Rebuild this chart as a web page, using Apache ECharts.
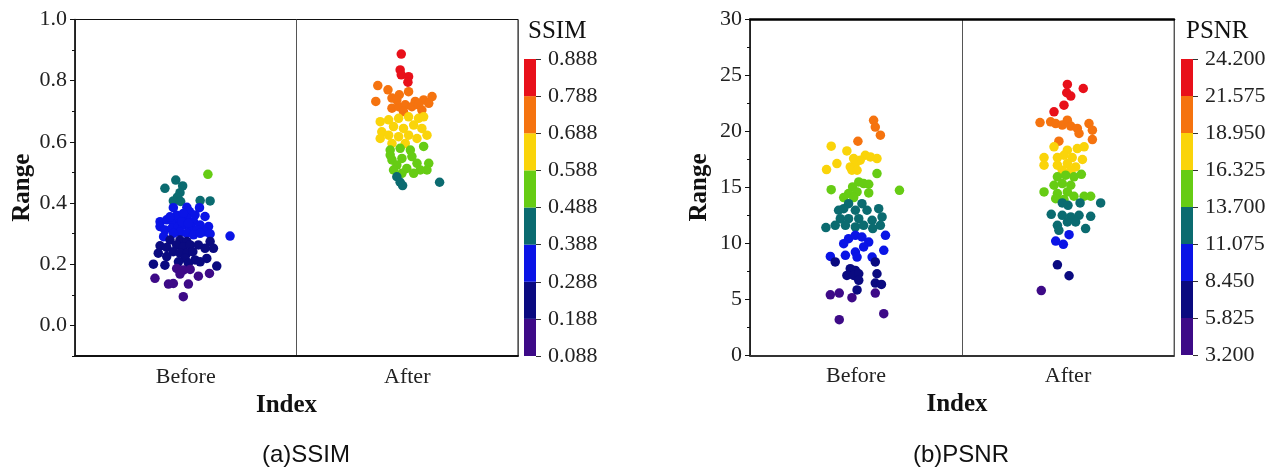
<!DOCTYPE html>
<html>
<head>
<meta charset="utf-8">
<script src="https://cdn.jsdelivr.net/npm/echarts@6/dist/echarts.min.js"></script>
<style>
  html, body { margin: 0; padding: 0; background: #fff; }
  #chart { width: 1278px; height: 470px; }
</style>
</head>
<body>
<div id="chart"></div>
<script>
// categories and colour classes
const categories = ['Before', 'After'];
const bandColors = ['#3d0a87', '#0a0a80', '#0a14e6', '#0b6b70', '#66cc14', '#fad40a', '#f5730f', '#e8101a'];

// colour bar boundaries (tick labels)
const ssimTicks = [0.088, 0.188, 0.288, 0.388, 0.488, 0.588, 0.688, 0.788, 0.888];
const psnrTicks = [3.2, 5.825, 8.45, 11.075, 13.7, 16.325, 18.95, 21.575, 24.2];

// major y tick values
const ssimMajor = [0, 0.2, 0.4, 0.6, 0.8, 1.0];
const psnrMajor = [0, 5, 10, 15, 20, 25, 30];

// points: [horizontal offset from category centre (category units), value]
const ssimBefore = [
  [0.10, 0.494], [-0.045, 0.475], [-0.094, 0.448], [-0.014, 0.456], [-0.026, 0.434], [-0.038, 0.419],
  [-0.056, 0.407], [-0.023, 0.405], [0.065, 0.408], [0.11, 0.407],
  [-0.056, 0.385], [0.005, 0.386], [0.017, 0.372], [0.062, 0.385], [0.087, 0.356], [-0.116, 0.339],
  [-0.086, 0.345], [-0.056, 0.334], [-0.026, 0.345], [0.005, 0.35], [0.035, 0.339], [0.065, 0.328],
  [0.103, 0.323], [-0.116, 0.323], [-0.094, 0.312], [-0.063, 0.317], [-0.033, 0.323], [-0.011, 0.328],
  [0.02, 0.323], [0.05, 0.312], [0.087, 0.306], [-0.026, 0.306], [-0.056, 0.301], [0.005, 0.301],
  [0.035, 0.296], [0.065, 0.301], [0.2, 0.292], [-0.1, 0.29], [0.11, 0.299], [-0.041, 0.36],
  [-0.011, 0.366], [-0.071, 0.355], [-0.018, 0.339], [0.012, 0.334], [0.042, 0.361],
  [-0.071, 0.279], [-0.026, 0.279], [0.005, 0.274], [-0.041, 0.263], [-0.011, 0.257], [0.02, 0.263],
  [-0.116, 0.26], [-0.086, 0.255], [0.11, 0.274], [0.125, 0.252], [0.087, 0.252], [0.057, 0.263],
  [-0.056, 0.241], [-0.026, 0.236], [0.005, 0.236], [0.032, 0.241], [-0.124, 0.236], [-0.086, 0.225],
  [-0.003, 0.219], [0.095, 0.219], [0.042, 0.214], [0.012, 0.203], [-0.094, 0.197], [-0.146, 0.2],
  [0.14, 0.194], [0.065, 0.208], [-0.033, 0.208],
  [-0.041, 0.186], [-0.011, 0.181], [0.02, 0.183], [-0.026, 0.168], [0.057, 0.161], [0.107, 0.17],
  [-0.139, 0.154], [-0.078, 0.135], [-0.056, 0.137], [0.012, 0.135], [-0.011, 0.094]
];
const ssimAfter = [
  [-0.027, 0.887], [-0.032, 0.835], [-0.027, 0.819], [0.006, 0.813], [0.003, 0.795],
  [-0.133, 0.784], [-0.087, 0.77], [-0.142, 0.732], [-0.069, 0.743], [-0.036, 0.754], [0.006, 0.764],
  [0.036, 0.732], [0.074, 0.737], [0.112, 0.748], [0.097, 0.726], [-0.069, 0.71], [-0.039, 0.715],
  [-0.009, 0.721], [0.021, 0.715], [0.051, 0.721], [-0.047, 0.737], [-0.017, 0.699], [0.066, 0.704],
  [-0.122, 0.666], [-0.084, 0.672], [-0.039, 0.677], [0.006, 0.682], [0.051, 0.677], [0.074, 0.682],
  [-0.115, 0.633], [-0.062, 0.65], [-0.017, 0.644], [0.029, 0.655], [0.066, 0.644], [0.089, 0.622],
  [-0.084, 0.622], [-0.039, 0.617], [0.006, 0.622], [0.044, 0.611], [-0.069, 0.595], [-0.009, 0.595],
  [-0.122, 0.611],
  [-0.077, 0.573], [-0.032, 0.579], [0.014, 0.573], [0.074, 0.585], [-0.069, 0.541], [-0.024, 0.546],
  [0.021, 0.552], [0.044, 0.53], [-0.047, 0.524], [-0.002, 0.513], [0.097, 0.53], [0.089, 0.508],
  [0.059, 0.508], [-0.062, 0.508], [-0.024, 0.497], [0.029, 0.497], [-0.077, 0.557],
  [-0.047, 0.486], [-0.032, 0.468], [-0.021, 0.457], [0.146, 0.468]
];
const psnrBefore = [
  [0.083, 21.0], [0.091, 20.4], [0.115, 19.67], [0.009, 19.13],
  [-0.117, 18.69], [-0.043, 18.27], [-0.139, 16.6], [-0.09, 17.14], [-0.027, 16.84], [-0.003, 17.14],
  [-0.019, 16.54], [0.005, 16.54], [0.044, 17.88], [0.068, 17.73], [0.099, 17.58], [0.02, 17.44],
  [-0.011, 17.58],
  [0.099, 16.24], [-0.117, 14.81], [0.205, 14.75], [0.013, 15.5], [0.036, 15.35], [0.06, 15.29],
  [-0.016, 15.05], [0.005, 14.6], [-0.035, 14.46], [-0.058, 14.1], [0.06, 14.52], [-0.011, 14.1],
  [-0.035, 13.56], [0.028, 13.56], [-0.082, 12.97], [-0.058, 13.11], [-0.003, 12.97], [0.052, 12.97],
  [0.107, 13.11], [0.123, 12.37], [-0.074, 12.22], [-0.035, 12.22], [0.013, 12.22], [0.076, 12.07],
  [-0.098, 11.62], [-0.05, 11.62], [-0.003, 11.48], [0.036, 11.62], [0.079, 11.33], [0.115, 11.62],
  [-0.142, 11.42],
  [0.139, 10.73], [-0.035, 10.43], [-0.003, 10.73], [0.028, 10.58], [-0.058, 9.98], [0.06, 10.13],
  [0.036, 9.69], [0.131, 9.39], [-0.121, 8.85], [-0.05, 8.94], [-0.003, 9.24], [0.005, 8.79],
  [0.076, 8.79],
  [-0.098, 8.35], [0.091, 8.35], [-0.027, 7.75], [-0.003, 7.6], [-0.043, 7.15], [-0.011, 7.15],
  [0.013, 7.3], [0.099, 7.3], [0.091, 6.47], [0.12, 6.35], [0.013, 6.71], [0.005, 5.85],
  [-0.121, 5.42], [-0.079, 5.57], [-0.019, 5.16], [0.091, 5.57], [-0.079, 3.2], [0.131, 3.73]
];
const psnrAfter = [
  [-0.003, 24.2], [0.072, 23.84], [-0.006, 23.46], [0.013, 23.16], [-0.019, 22.35], [-0.066, 21.76],
  [-0.132, 20.8], [-0.082, 20.86], [-0.058, 20.71], [-0.027, 20.57], [-0.003, 21.01], [0.013, 20.48],
  [0.044, 20.27], [0.052, 19.82], [0.099, 20.71], [0.115, 20.12], [0.115, 19.28], [-0.043, 19.14],
  [-0.066, 18.63], [-0.003, 18.33], [0.044, 18.48], [0.076, 18.63], [-0.113, 17.67], [-0.05, 17.67],
  [-0.019, 17.88], [0.02, 17.67], [0.068, 17.5], [-0.113, 16.99], [-0.05, 16.99], [-0.003, 17.14],
  [0.036, 16.84], [-0.027, 16.54], [0.013, 16.54],
  [-0.05, 15.95], [-0.011, 16.1], [0.028, 15.95], [0.063, 16.18], [-0.066, 15.2], [-0.027, 15.35],
  [0.013, 15.2], [-0.113, 14.6], [-0.05, 14.46], [-0.003, 14.6], [0.028, 14.22], [0.076, 14.22],
  [0.107, 14.22], [-0.058, 14.0], [-0.019, 13.92],
  [-0.027, 13.62], [0, 13.41], [0.057, 13.62], [0.154, 13.62], [-0.079, 12.61], [-0.027, 12.52],
  [0.013, 12.37], [0.052, 12.52], [0.107, 12.43], [-0.05, 11.62], [-0.003, 11.92], [0.036, 11.92],
  [0.083, 11.33], [-0.043, 11.18],
  [0.005, 10.79], [-0.058, 10.22], [-0.022, 9.93],
  [-0.05, 8.1], [0.005, 7.12],
  [-0.126, 5.8]
];

const SERIF = '"Liberation Serif", "Times New Roman", serif';

// colour classes for the visual map
function makePieces(ticks) {
    return ticks.slice(0, -1).map(function (lo, i) {
        const p = { gte: lo, color: bandColors[i] };
        if (i === ticks.length - 2) p.lte = ticks[i + 1]; else p.lt = ticks[i + 1];
        return p;
    });
}

// colour bar segments [lo, hi, colour index]
function makeBands(ticks) {
    return ticks.slice(0, -1).map(function (lo, i) { return [lo, ticks[i + 1], i]; });
}

function placed(points, catIndex) {
    return points.map(function (p) { return [catIndex + p[0], p[1]]; });
}

function renderBand(params, api) {
    const topLeft = api.coord([0, api.value(1)]);
    const botRight = api.coord([1, api.value(0)]);
    return {
        type: 'rect',
        shape: { x: topLeft[0], y: topLeft[1], width: botRight[0] - topLeft[0], height: botRight[1] - topLeft[1] },
        style: { fill: bandColors[api.value(2)] }
    };
}

function categoryAxis(grid, lineColor, nameShift) {
    return {
        type: 'category', gridIndex: grid, data: categories, boundaryGap: true, position: 'bottom',
        name: 'Index', nameLocation: 'middle', nameGap: 33,
        nameTextStyle: { fontFamily: SERIF, fontSize: 25, fontWeight: 'bold', color: '#111', padding: [0, nameShift, 0, 0] },
        axisLine: { onZero: false, lineStyle: { color: lineColor, width: 2 } },
        axisTick: { alignWithLabel: true, length: 5, lineStyle: { color: lineColor, width: 1.5 } },
        axisLabel: { fontFamily: SERIF, fontSize: 22, color: '#222', margin: 10 },
        splitLine: { show: true, lineStyle: { color: '#555', width: 1 } }
    };
}

function scatterXAxis(grid, topLine) {
    return {
        type: 'value', gridIndex: grid, min: -0.5, max: 1.5, position: 'top',
        show: topLine,
        axisLine: { show: true, onZero: false, lineStyle: { color: '#000', width: 2.5 } },
        axisTick: { show: false }, axisLabel: { show: false }, splitLine: { show: false }
    };
}

function hiddenXAxis(grid) {
    return { type: 'value', gridIndex: grid, min: 0, max: 1, show: false };
}

function mainYAxis(grid, min, max, interval, labelFn, nameGap) {
    return {
        type: 'value', gridIndex: grid, min: min, max: max, interval: interval, position: 'left',
        name: 'Range', nameLocation: 'middle', nameGap: nameGap, nameRotate: 90,
        nameTextStyle: { fontFamily: SERIF, fontSize: 25, fontWeight: 'bold', color: '#111' },
        axisLine: { show: true, onZero: false, lineStyle: { color: '#111', width: 1.5 } },
        axisTick: { show: true, length: 3, lineStyle: { color: '#111' } },
        axisLabel: { fontFamily: SERIF, fontSize: 22, color: '#222', margin: 8, formatter: labelFn },
        splitLine: { show: false }
    };
}

function majorTickAxis(grid, min, max, interval, major) {
    return {
        type: 'value', gridIndex: grid, min: min, max: max, interval: interval, position: 'left',
        axisLine: { show: false, onZero: false },
        axisTick: { show: true, length: 5, customValues: major, lineStyle: { color: '#111' } },
        axisLabel: { show: false },
        splitLine: { show: false }
    };
}

function colorBarYAxis(grid, ticks) {
    return {
        type: 'value', gridIndex: grid, position: 'right',
        min: ticks[0], max: ticks[ticks.length - 1], interval: ticks[1] - ticks[0],
        axisLine: { show: false, onZero: false },
        axisTick: { show: true, length: 5, lineStyle: { color: '#333' } },
        axisLabel: { fontFamily: SERIF, fontSize: 22, color: '#222', margin: 12,
            formatter: function (v) { return v.toFixed(3); } },
        splitLine: { show: false }
    };
}

const chart = echarts.init(document.getElementById('chart'));

const dot = { symbolSize: 9.5, itemStyle: { opacity: 1 } };

const option = {
    backgroundColor: '#fff',
    animation: false,
    grid: [
        { left: 75, top: 19.5, width: 443, height: 336.5, show: true, borderColor: '#111', borderWidth: 1 },
        { left: 524, top: 59, width: 12, height: 297 },
        { left: 750, top: 19.5, width: 424, height: 336, show: true, borderColor: '#666', borderWidth: 1 },
        { left: 1181, top: 59, width: 12, height: 296 }
    ],
    xAxis: [
        categoryAxis(0, '#111', 20),
        scatterXAxis(0, false),
        hiddenXAxis(1),
        categoryAxis(2, '#333', 10),
        scatterXAxis(2, true),
        hiddenXAxis(3)
    ],
    yAxis: [
        mainYAxis(0, -0.1, 1.0, 0.1, function (v) {
            return Math.round(v * 10) % 2 === 0 ? v.toFixed(1) : '';
        }, 40),
        majorTickAxis(0, -0.1, 1.0, 0.1, ssimMajor),
        colorBarYAxis(1, ssimTicks),
        mainYAxis(2, 0, 30, 2.5, function (v) {
            return v % 5 === 0 ? String(v) : '';
        }, 38),
        majorTickAxis(2, 0, 30, 2.5, psnrMajor),
        colorBarYAxis(3, psnrTicks)
    ],
    visualMap: [
        { type: 'piecewise', show: false, seriesIndex: [0, 1], dimension: 1, pieces: makePieces(ssimTicks) },
        { type: 'piecewise', show: false, seriesIndex: [3, 4], dimension: 1, pieces: makePieces(psnrTicks) }
    ],
    series: [
        Object.assign({ name: 'SSIM Before', type: 'scatter', xAxisIndex: 1, yAxisIndex: 0, data: placed(ssimBefore, 0) }, dot),
        Object.assign({ name: 'SSIM After', type: 'scatter', xAxisIndex: 1, yAxisIndex: 0, data: placed(ssimAfter, 1) }, dot),
        { name: 'SSIM bar', type: 'custom', xAxisIndex: 2, yAxisIndex: 2, renderItem: renderBand, data: makeBands(ssimTicks) },
        Object.assign({ name: 'PSNR Before', type: 'scatter', xAxisIndex: 4, yAxisIndex: 3, data: placed(psnrBefore, 0) }, dot),
        Object.assign({ name: 'PSNR After', type: 'scatter', xAxisIndex: 4, yAxisIndex: 3, data: placed(psnrAfter, 1) }, dot),
        { name: 'PSNR bar', type: 'custom', xAxisIndex: 5, yAxisIndex: 5, renderItem: renderBand, data: makeBands(psnrTicks) }
    ],
    graphic: [
        { type: 'text', x: 528, y: 31, style: { text: 'SSIM', font: '25px ' + SERIF, fill: '#111', verticalAlign: 'middle' } },
        { type: 'text', x: 1186, y: 31, style: { text: 'PSNR', font: '25px ' + SERIF, fill: '#111', verticalAlign: 'middle' } },
        { type: 'text', x: 306, y: 455, style: { text: '(a)SSIM', font: '24px "Liberation Sans", Arial, sans-serif', fill: '#111', align: 'center', verticalAlign: 'middle' } },
        { type: 'text', x: 961, y: 455, style: { text: '(b)PSNR', font: '24px "Liberation Sans", Arial, sans-serif', fill: '#111', align: 'center', verticalAlign: 'middle' } }
    ]
};

chart.setOption(option);
</script>
</body>
</html>
